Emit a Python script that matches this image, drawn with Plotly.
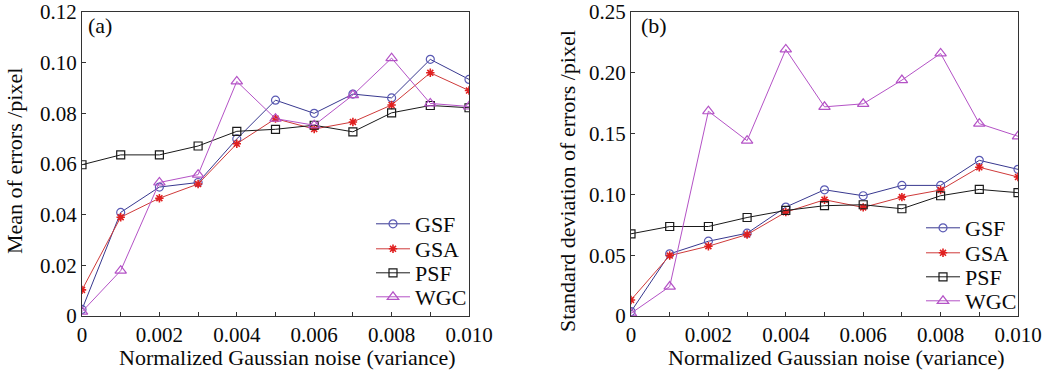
import plotly.graph_objects as go

noise = [0, 0.001, 0.002, 0.003, 0.004, 0.005, 0.006, 0.007, 0.008, 0.009, 0.010]

mean_gsf = [0.0026, 0.0409, 0.0509, 0.0527, 0.0699, 0.0852, 0.0800, 0.0876, 0.0861, 0.1013, 0.0934]
mean_gsa = [0.0103, 0.0390, 0.0465, 0.0521, 0.0680, 0.0779, 0.0738, 0.0766, 0.0833, 0.0960, 0.0890]
mean_psf = [0.0597, 0.0636, 0.0636, 0.0671, 0.0729, 0.0737, 0.0753, 0.0727, 0.0802, 0.0831, 0.0822]
mean_wgc = [0.0017, 0.0179, 0.0527, 0.0558, 0.0926, 0.0779, 0.0753, 0.0872, 0.1018, 0.0839, 0.0827]

std_gsf = [0.0036, 0.0511, 0.0615, 0.0681, 0.0896, 0.1038, 0.0989, 0.1074, 0.1074, 0.1280, 0.1206]
std_gsa = [0.0132, 0.0497, 0.0574, 0.0670, 0.0854, 0.0956, 0.0893, 0.0978, 0.1036, 0.1223, 0.1143]
std_psf = [0.0676, 0.0736, 0.0736, 0.0810, 0.0868, 0.0907, 0.0915, 0.0882, 0.0989, 0.1041, 0.1014]
std_wgc = [0.0022, 0.0242, 0.1684, 0.1442, 0.2192, 0.1720, 0.1745, 0.1940, 0.2159, 0.1582, 0.1478]

series_names = ["GSF", "GSA", "PSF", "WGC"]

x_ticktext = ["0", "", "0.002", "", "0.004", "", "0.006", "", "0.008", "", "0.010"]
ya_tickvals = [0, 0.02, 0.04, 0.06, 0.08, 0.10, 0.12]
ya_ticktext = ["0", "0.02", "0.04", "0.06", "0.08", "0.10", "0.12"]
yb_tickvals = [0, 0.05, 0.10, 0.15, 0.20, 0.25]
yb_ticktext = ["0", "0.05", "0.10", "0.15", "0.20", "0.25"]

x_title = "Normalized Gaussian noise (variance)"
ya_title = "Mean of errors /pixel"
yb_title = "Standard deviation of errors /pixel"

FONT = "Liberation Serif"
FS_TICK = 21
FS = 22
INK = "#0a0a0a"

W, H = 1052, 373
T, B = 12, 57
PH = H - T - B  # plot-area height in px


def px_x(x):
    return x / W


def px_y(y):
    return (H - B - y) / PH


styles = {
    "GSF": dict(line=dict(color="#38388f", width=1),
                marker=dict(symbol="circle-open", size=8, color="#5a5ab4", line=dict(width=1.2, color="#5a5ab4"))),
    "GSA": dict(line=dict(color="#cf3a3a", width=1),
                marker=dict(symbol="asterisk", size=7, color="#e02020", line=dict(width=1.6, color="#e02020"))),
    "PSF": dict(line=dict(color="#1a1a1a", width=1),
                marker=dict(symbol="square-open", size=8, color="#1a1a1a", line=dict(width=1.2, color="#1a1a1a"))),
    "WGC": dict(line=dict(color="#b452c6", width=1),
                marker=dict(symbol="triangle-up-open", size=10, color="#b452c6", line=dict(width=1.2, color="#b452c6"))),
}

fig = go.Figure()

left = dict(zip(series_names, [mean_gsf, mean_gsa, mean_psf, mean_wgc]))
right = dict(zip(series_names, [std_gsf, std_gsa, std_psf, std_wgc]))

# one single-entry legend per trace so that row spacing can match the reference
left_rows = [224, 249, 273, 297]
right_rows = [228, 253, 277, 301]
left_leg_x = 371
right_leg_x = 921

legends = {}
n = 1
for i, name in enumerate(series_names):
    key = "legend" if n == 1 else f"legend{n}"
    fig.add_trace(go.Scatter(x=noise, y=left[name], name=name, mode="lines+markers",
                             xaxis="x", yaxis="y", legend=key, **styles[name]))
    legends[key] = dict(x=px_x(left_leg_x), xanchor="left", y=px_y(left_rows[i]), yanchor="middle",
                        bgcolor="rgba(0,0,0,0)", borderwidth=0,
                        font=dict(family=FONT, size=FS, color=INK), itemwidth=34)
    n += 1
for i, name in enumerate(series_names):
    key = f"legend{n}"
    fig.add_trace(go.Scatter(x=noise, y=right[name], name=name, mode="lines+markers",
                             xaxis="x2", yaxis="y2", legend=key, **styles[name]))
    legends[key] = dict(x=px_x(right_leg_x), xanchor="left", y=px_y(right_rows[i]), yanchor="middle",
                        bgcolor="rgba(0,0,0,0)", borderwidth=0,
                        font=dict(family=FONT, size=FS, color=INK), itemwidth=34)
    n += 1

axis_common = dict(showline=True, linecolor="#333333", linewidth=1, mirror=True,
                   showgrid=False, zeroline=False, ticks="inside", ticklen=4,
                   tickcolor="#333333", automargin=False,
                   tickfont=dict(family=FONT, size=FS_TICK, color=INK))

fig.update_layout(
    width=W, height=H,
    margin=dict(l=0, r=0, t=T, b=B),
    paper_bgcolor="white", plot_bgcolor="white",
    font=dict(family=FONT, color=INK),
    showlegend=True,
    xaxis=dict(domain=[px_x(82), px_x(469)], range=[0, 0.010], tickmode="array",
               tickvals=noise, ticktext=x_ticktext, **axis_common),
    yaxis=dict(domain=[0, 1], range=[0, 0.12], tickmode="array",
               tickvals=ya_tickvals, ticktext=ya_ticktext, **axis_common),
    xaxis2=dict(domain=[px_x(631), px_x(1018)], range=[0, 0.010], tickmode="array", anchor="y2",
                tickvals=noise, ticktext=x_ticktext, **axis_common),
    yaxis2=dict(domain=[0, 1], range=[0, 0.25], tickmode="array", anchor="x2",
                tickvals=yb_tickvals, ticktext=yb_ticktext, **axis_common),
    annotations=[
        dict(text="(a)", x=px_x(86), y=px_y(11), xref="paper", yref="paper", xanchor="left", yanchor="top",
             showarrow=False, font=dict(family=FONT, size=FS, color=INK)),
        dict(text="(b)", x=px_x(639), y=px_y(11), xref="paper", yref="paper", xanchor="left", yanchor="top",
             showarrow=False, font=dict(family=FONT, size=FS, color=INK)),
        dict(text=x_title, x=px_x(287), y=px_y(357), xref="paper", yref="paper",
             xanchor="center", yanchor="middle", showarrow=False,
             font=dict(family=FONT, size=FS, color=INK)),
        dict(text=x_title, x=px_x(836), y=px_y(357), xref="paper", yref="paper",
             xanchor="center", yanchor="middle", showarrow=False,
             font=dict(family=FONT, size=FS, color=INK)),
        dict(text=ya_title, x=px_x(14), y=px_y(161), xref="paper", yref="paper", textangle=-90,
             xanchor="center", yanchor="middle", showarrow=False,
             font=dict(family=FONT, size=FS, color=INK)),
        dict(text=yb_title, x=px_x(567), y=px_y(181), xref="paper", yref="paper", textangle=-90,
             xanchor="center", yanchor="middle", showarrow=False,
             font=dict(family=FONT, size=FS, color=INK)),
    ],
    **legends,
)

fig.write_html("out.html", config={"displayModeBar": False},
               post_script="document.body.style.margin='0px';document.body.style.overflow='hidden';")
